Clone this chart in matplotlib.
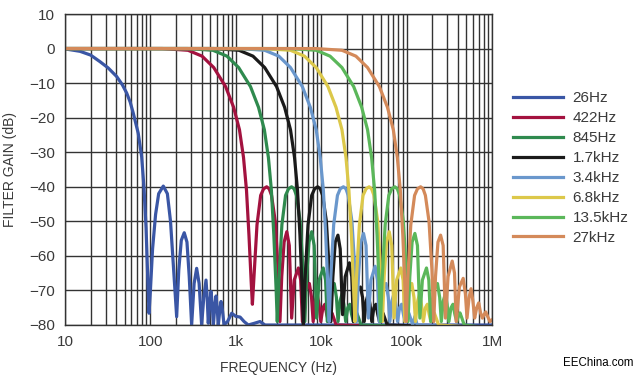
import matplotlib
matplotlib.use('Agg')
import matplotlib.pyplot as plt
from matplotlib.ticker import FixedLocator, LogLocator, NullFormatter

plt.rcParams['font.family'] = ['Liberation Sans', 'DejaVu Sans']
plt.rcParams['axes.unicode_minus'] = True

# filter gain curves (frequency in Hz, gain in dB)
f_26 = [10, 15, 20, 25.7, 32, 40.3, 47, 52.8, 58, 63, 72, 79, 84, 89, 93, 96.4, 100, 106, 115, 125,
        141.6, 158, 172, 186, 203, 215, 230, 249, 268, 285, 304, 325, 348, 372, 398, 422, 448, 462,
        476, 495, 513, 530, 546, 566, 587, 605, 624, 648, 671, 700, 728, 800, 895, 1000, 1122, 1250,
        1400, 1650, 1920, 2200, 2600, 1e6]
g_26 = [-0.1, -0.8, -1.9, -3.8, -5.6, -8.1, -10.5, -12.9, -15.5, -18.7, -24.5, -31.3, -40, -52, -66,
        -76.6, -70, -58, -48, -42, -39.8, -42, -50, -63, -77.6, -64, -55.5, -53.3, -56, -66, -80, -68,
        -63.6, -68, -80, -72, -67, -72, -79.5, -74, -70.3, -74, -80, -75, -71.6, -75, -80, -76, -73.2,
        -76, -80, -79, -76.6, -77.5, -77.7, -79, -80, -79.5, -79, -80, -80, -80]

f_422 = [10, 138, 276, 403, 552, 759, 943, 1104, 1231, 1334, 1426, 1518, 1564, 1633, 1771, 1955, 2116,
         2300, 2461, 2622, 2898, 3128, 3289, 3450, 3680, 3956, 4232, 4508, 4830, 5405, 5750, 6026,
         6555, 7268, 7705, 8050, 8510, 8970, 9430, 9890, 10465, 11040, 11615, 12190, 12765, 13340,
         14030, 14950, 1e6]
g_422 = [0, 0, -0.5, -2.2, -5.5, -11, -17, -23.5, -31.5, -41, -54, -68, -74, -66, -51, -42.5, -40.6,
         -40, -40.6, -42.5, -50, -64, -79, -66, -56, -53, -57, -78, -67, -63.5, -67, -79, -70, -68,
         -72, -79, -73, -71, -74, -79, -75, -74, -77, -79, -77.5, -76.5, -78, -80, -81]

f_845 = [10, 270, 540, 788, 1080, 1485, 1845, 2160, 2408, 2610, 2790, 2970, 3060, 3195, 3465, 3825,
         4140, 4500, 4815, 5130, 5670, 6120, 6435, 6750, 7200, 7740, 8280, 8820, 9450, 10575, 11250,
         11790, 12825, 14220, 15075, 15750, 16650, 17550, 18450, 19350, 20475, 21600, 22725, 23850,
         24975, 26100, 27450, 29250, 1e6]
g_845 = [0, 0, -0.5, -2.2, -5.5, -11, -17, -23.5, -31.5, -41, -54, -70, -79, -67, -51, -42.5, -40.6,
         -40, -40.6, -42.5, -50, -64, -79, -66, -56, -53, -57, -78, -67, -63.5, -67, -79, -70, -68,
         -72, -79, -73, -71, -74, -79, -75, -74, -77, -79, -77.5, -76.5, -78, -80, -81]

f_1k7 = [10, 546, 1090, 1590, 2180, 3000, 3730, 4370, 4870, 5280, 5640, 6010, 6190, 6460, 7010, 7740,
         8370, 9100, 9740, 10400, 11500, 12400, 13000, 13700, 14600, 15700, 16700, 17800, 19100, 21400,
         22800, 23800, 25900, 28800, 30500, 31900, 33700, 35500, 37300, 39100, 41400, 43700, 46000,
         48200, 50500, 52800, 55500, 59200, 1e6]
g_1k7 = [0, 0, -0.5, -2.2, -5.5, -11, -17, -23.5, -31.5, -41, -54, -71, -80, -67, -51, -42.5, -40.6,
         -40, -40.6, -42.5, -50, -64, -79, -66, -56, -54, -58, -77, -66, -62, -66, -79, -70, -69,
         -72, -79, -73, -71, -74, -79, -75, -74, -77, -79, -77.5, -76.5, -78, -80, -81]

f_3k4 = [10, 1090, 2180, 3190, 4370, 6010, 7460, 8740, 9740, 10600, 11300, 12000, 12400, 12900, 14000,
         15500, 16700, 18200, 19500, 20700, 22900, 24800, 26000, 27300, 29100, 31300, 33500, 35700,
         38200, 42800, 45500, 47700, 51900, 57500, 61000, 63700, 67300, 71000, 74600, 78300, 82800,
         87400, 91900, 96500, 101000, 106000, 111000, 118000, 125000, 133000, 1e6]
g_3k4 = [0, 0, -0.5, -2.2, -5.5, -11, -17, -23.5, -31.5, -41, -54, -70, -79, -67, -51, -42.5, -40.6,
         -40, -40.6, -42.5, -50, -64, -79, -66, -56, -53.5, -57, -78, -67, -63, -67, -79, -70, -68,
         -72, -79, -73, -71, -74, -79, -75, -74, -77, -79, -77.5, -76.5, -78, -80, -77.5, -80, -81]

f_6k8 = [10, 2180, 4370, 6370, 8740, 12000, 14900, 17500, 19500, 21100, 22600, 24000, 24800, 25800,
         28000, 30900, 33500, 36400, 38900, 41500, 45900, 49500, 52100, 54600, 58200, 62600, 67000,
         71300, 76400, 85500, 91000, 95400, 104000, 115000, 122000, 127000, 135000, 142000, 149000,
         157000, 166000, 175000, 184000, 193000, 202000, 211000, 222000, 237000, 1e6]
g_6k8 = [0, 0, -0.5, -2.2, -5.5, -11, -17, -23.5, -31.5, -41, -54, -70, -79, -67, -51, -42.5, -40.6,
         -40, -40.6, -42.5, -50, -64, -79, -66, -56, -53, -57, -78, -67, -63.5, -67, -79, -70, -68,
         -72, -79, -73, -71, -74, -79, -75, -74, -77, -79, -77.5, -76.5, -78, -80, -81]

f_13k5 = [10, 4370, 8740, 12700, 17500, 24000, 29800, 34900, 38900, 42200, 45100, 48000, 49500, 51700,
          56100, 61900, 67000, 72800, 77900, 83000, 91700, 99000, 104000, 109000, 116000, 125000,
          134000, 143000, 153000, 171000, 182000, 191000, 207000, 230000, 244000, 255000, 269000,
          284000, 298000, 313000, 331000, 349000, 368000, 386000, 404000, 422000, 444000, 473000, 1e6]
g_13k5 = [0, 0, -0.5, -2.2, -5.5, -11, -17, -23.5, -31.5, -41, -54, -70, -79, -67, -51, -42.5, -40.6,
          -40, -40.6, -42.5, -50, -64, -79, -66, -56, -53.5, -57, -78, -67, -63.5, -67, -79, -70, -68,
          -72, -79, -73, -71, -74, -79, -75, -74, -77, -79, -77.5, -76.5, -78, -80, -81]

f_27k = [10, 8740, 17500, 25500, 34900, 48000, 59700, 69900, 77900, 84400, 90300, 96100, 99000, 103000,
         112000, 124000, 134000, 146000, 156000, 166000, 183000, 198000, 208000, 218000, 233000, 250000,
         268000, 285000, 306000, 342000, 364000, 381000, 415000, 460000, 488000, 510000, 539000, 568000,
         597000, 626000, 662000, 699000, 735000, 772000, 808000, 844000, 888000, 946000, 1e6]
g_27k = [0, 0, -0.5, -2.2, -5.5, -11, -17, -23.5, -31.5, -41, -54, -70, -79, -67, -51, -42.5, -40.6,
         -40, -40.6, -42.5, -50, -64, -79, -66, -56, -54, -57, -78, -66, -61.5, -65, -79, -69, -66.5,
         -71, -78, -72, -69.5, -73, -78, -75, -73.6, -76.5, -78, -77, -76.2, -77.5, -79, -78.5]

labels = ['26Hz', '422Hz', '845Hz', '1.7kHz', '3.4kHz', '6.8kHz', '13.5kHz', '27kHz']
colors = ['#3a56a5', '#a3123f', '#2f8a4e', '#1a1a1a', '#6a97cc', '#dcc84a', '#5bb75a', '#d48a5a']
curves = [(f_26, g_26), (f_422, g_422), (f_845, g_845), (f_1k7, g_1k7), (f_3k4, g_3k4),
          (f_6k8, g_6k8), (f_13k5, g_13k5), (f_27k, g_27k)]

fig = plt.figure(figsize=(6.4, 3.78), dpi=100, facecolor='white')
ax = fig.add_axes([65 / 640, 1 - 325 / 378, 427 / 640, 311 / 378])

for (f, g), lab, col in zip(curves, labels, colors):
    ax.plot(f, g, color=col, lw=2.3, label=lab, solid_joinstyle='round')

ax.set_xscale('log')
ax.set_xlim(10, 1e6)
ax.set_ylim(-80, 10)
ax.set_xticks([10, 100, 1000, 10000, 100000, 1000000])
ax.set_xticklabels(['10', '100', '1k', '10k', '100k', '1M'])
ax.xaxis.set_minor_locator(LogLocator(base=10, subs=range(2, 10)))
ax.xaxis.set_minor_formatter(NullFormatter())
ax.yaxis.set_major_locator(FixedLocator(range(-80, 11, 10)))
ax.grid(True, which='both', axis='x', color='#333333', lw=1.0)
ax.grid(True, which='major', axis='y', color='#333333', lw=1.0)
ax.set_axisbelow(True)
ax.tick_params(which='both', length=0, labelsize=11, colors='#3a3a3a', pad=7)
for s in ax.spines.values():
    s.set_color('#333333')
    s.set_linewidth(1.0)

ax.set_xlabel('FREQUENCY (Hz)', fontsize=10, color='#3a3a3a', labelpad=9)
ax.set_ylabel('FILTER GAIN (dB)', fontsize=10, color='#3a3a3a', labelpad=9)

fig.legend(loc='upper left', bbox_to_anchor=(0.802, 0.759), frameon=False, fontsize=11,
           borderpad=0, borderaxespad=0, handlelength=3.27, handletextpad=0.6,
           labelspacing=0.39, labelcolor='#3a3a3a')

fig.text(0.99, 0.025, 'EEChina.com', ha='right', va='bottom', fontsize=8.3,
         family=['Liberation Sans', 'DejaVu Sans'], color='black')

fig.savefig('out.png', dpi=100)
